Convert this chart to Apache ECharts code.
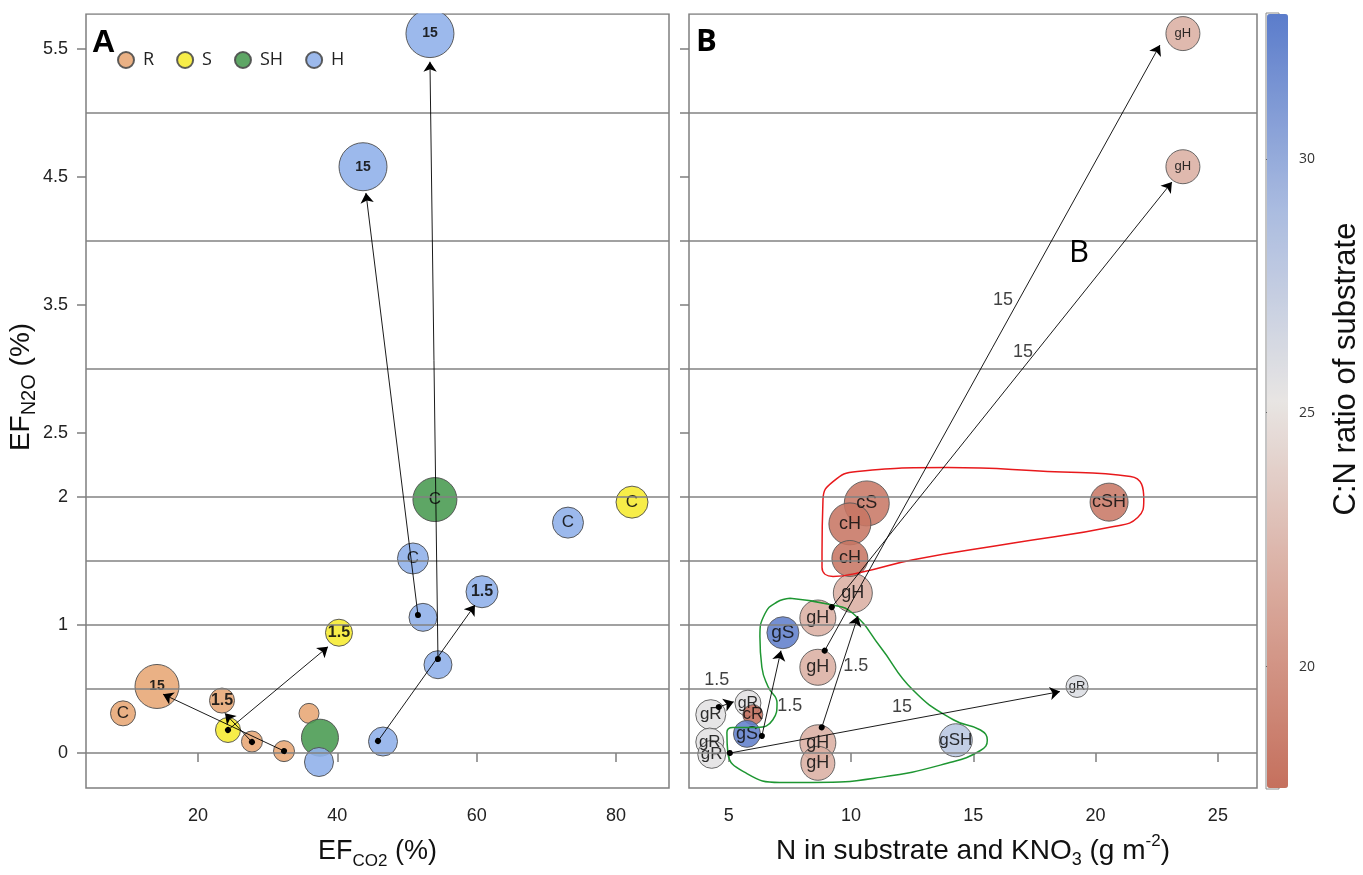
<!DOCTYPE html>
<html><head><meta charset="utf-8">
<script src="https://cdn.jsdelivr.net/npm/echarts@6/dist/echarts.min.js"></script>
<style>html,body{margin:0;padding:0;background:#fff}#c{width:1363px;height:875px}</style>
</head><body><div id="c"></div>
<script>
// ---------- Panel A : [EF_CO2 %, EF_N2O %, bubble diameter, label] ----------
const ptsR  = [[9.23,0.31,25,'C'],[14.11,0.52,44,'15'],[23.44,0.41,25,'1.5'],[27.74,0.09,21,''],[32.34,0.015,21,''],[35.93,0.31,20,'']];
const ptsS  = [[24.30,0.18,25,''],[40.23,0.94,27,'1.5'],[82.29,1.96,32,'C']];
const ptsSH = [[37.5,0.12,37,''],[54.0,1.98,44,'C']];
const ptsH  = [[37.36,-0.07,29,''],[46.55,0.09,29,''],[52.29,1.06,28,''],[54.44,0.69,28,''],[50.85,1.52,31,'C'],[60.76,1.26,32,'1.5'],[73.1,1.80,31,'C'],[53.29,5.62,48,'15'],[43.68,4.58,48,'15']];
const arrowsA = [
  [[32.34,0.016],[14.97,0.46]],
  [[27.74,0.086],[23.87,0.31]],
  [[24.30,0.18],[38.65,0.83]],
  [[45.83,0.094],[59.75,1.156]],
  [[51.57,1.078],[44.1,4.375]],
  [[54.44,0.734],[53.29,5.40]]
];
// ---------- Panel B : [N g m-2, EF_N2O %, C:N ratio, bubble diameter, label] ----------
const ptsB = [
  [4.26,0.30,25.6,30,'gR'],[5.78,0.39,25.6,26,'gR'],[5.98,0.30,17.6,20,'cR'],[5.74,0.15,32.6,27,'gS'],
  [4.22,0.086,25.6,28,'gR'],[4.30,-0.01,25.6,28,'gR'],[7.21,0.94,32.6,32,'gS'],
  [8.64,1.055,21.8,36,'gH'],[8.64,0.67,21.8,36,'gH'],[10.07,1.25,21.8,39,'gH'],
  [8.64,0.08,21.8,36,'gH'],[8.64,-0.08,21.8,34,'gH'],[14.28,0.10,28.0,33,'gSH'],[19.24,0.52,26.0,22,'gR'],
  [10.64,1.95,18.2,45,'cS'],[9.95,1.79,18.0,42,'cH'],[9.95,1.52,18.0,36,'cH'],[20.55,1.96,18.2,38,'cSH'],
  [23.57,5.62,21.8,34,'gH'],[23.57,4.58,21.8,34,'gH']
];
const arrowsB = [
  [[4.59,0.36],[5.20,0.40]],
  [[6.35,0.133],[7.13,0.80]],
  [[8.80,0.20],[10.28,1.07]],
  [[8.92,0.80],[22.63,5.53]],
  [[9.21,1.14],[23.12,4.46]],
  [[5.04,0.0],[18.54,0.48]]
];
const arrowLabelsB = [[4.51,0.57,'1.5'],[7.49,0.37,'1.5'],[10.19,0.68,'1.5'],[16.21,3.54,'15'],[17.03,3.13,'15'],[12.08,0.36,'15']];
const redOutline = [[8.81,1.56],[8.85,1.98],[9.26,2.12],[10.25,2.20],[13.93,2.23],[18.03,2.20],[21.43,2.16],[21.97,1.98],[21.72,1.84],[20.74,1.77],[16.64,1.64],[12.54,1.51],[10.37,1.41],[9.26,1.38],[8.81,1.45],[8.81,1.56]];
const greenOutline = [[7.50,1.21],[9.14,1.16],[10.08,1.09],[11.19,0.83],[12.54,0.49],[14.18,0.26],[15.29,0.18],[15.57,0.10],[15.29,0.02],[13.93,-0.08],[11.19,-0.19],[8.44,-0.23],[7.09,-0.23],[5.74,-0.16],[4.96,0.0],[4.92,0.16],[5.16,0.20],[6.15,0.20],[6.80,0.26],[6.97,0.39],[6.60,0.52],[6.35,0.67],[6.27,0.91],[6.48,1.09],[6.97,1.18],[7.50,1.21]];
// ---------- axes ----------
const yTicksA = [0,1,2,2.5,3.5,4.5,5.5];
const yTicksB = [0,0.5,1,1.5,2,2.5,3,3.5,4,4.5,5,5.5];
const gridLinesY = [0,0.5,1,1.5,2,3,4,5];
const xTicksA = [20,40,60,80];
const xTicksB = [5,10,15,20,25];
const cbTicks = [20,25,30];

// label font sizes for panel B bubbles (style)
const fontB = [17,16,17,18,17,17,19,18,18,18,18,18,17,13,18,18,18,18,13,13];

const FONT = "'Liberation Sans', Arial, sans-serif";
const chart = echarts.init(document.getElementById('c'), null, {renderer:'canvas'});
const tickStyle = {color:'#7f7f7f', width:1.5};
const labA = {
  show:true, position:'inside', color:'#111',
  formatter: p => { const t = p.data[3]; return t==='C' ? '{c|C}' : t==='15' ? '{f|15}' : t==='1.5' ? '{h|1.5}' : ''; },
  rich:{ c:{fontSize:17,color:'#111'}, f:{fontSize:14,fontWeight:'bold',color:'#111'}, h:{fontSize:16,fontWeight:'bold',color:'#111'} }
};
function seriesA(name, data, color){
  return {name, type:'scatter', xAxisIndex:0, yAxisIndex:0, data, symbolSize: d=>d[2],
    itemStyle:{color, borderColor:'#4d4d4d', borderWidth:1, opacity:0.9}, label:labA, z:3};
}
const gridMark = (xi)=>({type:'line', xAxisIndex:xi, yAxisIndex:xi, data:[[4, -0.27]], showSymbol:false, silent:true, z:1,
  lineStyle:{opacity:0},
  markLine:{silent:true, symbol:['none','none'], label:{show:false}, animation:false,
    lineStyle:{color:'#828282', width:1.5, type:'solid'}, data: gridLinesY.map(v=>({yAxis:v}))}});

const option = {
  animation:false,
  textStyle:{fontFamily:FONT},
  title:[
    {text:'A', left:92, top:27, padding:0, textStyle:{fontFamily:FONT, fontSize:32, fontWeight:'bold', color:'#000'}},
    {text:'B', left:696, top:27, padding:0, textStyle:{fontFamily:"'Open Sans', sans-serif", fontSize:31, fontWeight:'bold', color:'#000'}},
    {text:'B', left:1069, top:238, padding:0, textStyle:{fontFamily:"'Open Sans', sans-serif", fontSize:31, fontWeight:'normal', color:'#000'}}
  ],
  legend:{data:['R','S','SH','H'], left:117, top:51, itemWidth:16, itemHeight:16, itemGap:22, icon:'circle', padding:0,
    textStyle:{fontFamily:"'Open Sans', sans-serif", fontSize:18, color:'#222', padding:[0,0,0,4]}},
  graphic:{elements:[
    {type:'rect', x:80, y:0, shape:{x:0, y:0, width:595, height:13.2}, style:{fill:'#ffffff'}, z:1000, zlevel:0, silent:true},
    {type:'rect', x:683, y:0, shape:{x:0, y:0, width:580, height:13.2}, style:{fill:'#ffffff'}, z:1000, zlevel:0, silent:true}
  ]},
  grid:[
    {left:86, top:14, width:583, height:774, show:true, borderColor:'#7f7f7f', borderWidth:1.5, backgroundColor:'transparent'},
    {left:689, top:14, width:568, height:774, show:true, borderColor:'#7f7f7f', borderWidth:1.5, backgroundColor:'transparent'},
    {left:1266, top:13, width:23, height:776, show:true, borderColor:'#8a8a8a', borderWidth:1, backgroundColor:'transparent'}
  ],
  xAxis:[
    {gridIndex:0, type:'value', min:3.92, max:87.6, axisLine:{show:false}, splitLine:{show:false},
      axisTick:{customValues:xTicksA, length:9, lineStyle:tickStyle},
      axisLabel:{customValues:xTicksA, fontSize:18, color:'#222', margin:19},
      name:'{m|EF}{s|CO2}{m| (%)}', nameLocation:'middle', nameGap:46,
      nameTextStyle:{rich:{m:{fontSize:27, lineHeight:36, color:'#111'}, s:{fontSize:17, lineHeight:18, verticalAlign:'bottom', color:'#111'}}}},
    {gridIndex:1, type:'value', min:3.37, max:26.6, axisLine:{show:false}, splitLine:{show:false},
      axisTick:{customValues:xTicksB, length:9, lineStyle:tickStyle},
      axisLabel:{customValues:xTicksB, fontSize:18, color:'#222', margin:19},
      name:'{m|N in substrate and KNO}{s|3}{m| (g m}{p|-2}{m|)}', nameLocation:'middle', nameGap:45,
      nameTextStyle:{rich:{m:{fontSize:28, lineHeight:36, color:'#111'}, s:{fontSize:18, lineHeight:18, verticalAlign:'bottom', color:'#111'}, p:{fontSize:17, lineHeight:18, verticalAlign:'top', color:'#111'}}}},
    {gridIndex:2, type:'value', min:0, max:1, show:false}
  ],
  yAxis:[
    {gridIndex:0, type:'value', min:-0.273, max:5.773, axisLine:{show:false}, splitLine:{show:false},
      axisTick:{customValues:yTicksA, length:9, lineStyle:tickStyle},
      axisLabel:{customValues:yTicksA, fontSize:18, color:'#222', margin:18},
      name:'{m|EF}{s|N2O}{m| (%)}', nameLocation:'middle', nameGap:42, nameRotate:90,
      nameTextStyle:{padding:[0,0,0,28], rich:{m:{fontSize:28, lineHeight:36, color:'#111'}, s:{fontSize:20, lineHeight:20, verticalAlign:'bottom', color:'#111'}}}},
    {gridIndex:1, type:'value', min:-0.273, max:5.773, axisLine:{show:false}, splitLine:{show:false},
      axisTick:{customValues:yTicksB, length:9, lineStyle:tickStyle},
      axisLabel:{show:false}},
    {gridIndex:2, type:'value', position:'right', min:17.59, max:32.87, axisLine:{show:false}, splitLine:{show:false},
      axisTick:{customValues:cbTicks, length:9, lineStyle:{color:'#666', width:1}},
      axisLabel:{customValues:cbTicks, fontSize:14, color:'#333', margin:20, fontFamily:"'Open Sans', sans-serif"},
      name:'C:N ratio of substrate', nameLocation:'middle', nameGap:52, nameRotate:90,
      nameTextStyle:{fontSize:31, color:'#111', fontFamily:FONT, padding:[0,0,0,64]}}
  ],
  visualMap:{type:'continuous', seriesIndex:7, dimension:2, min:17.59, max:32.87, calculable:false, hoverLink:false,
    left:1267, top:14, itemWidth:21, itemHeight:774, padding:0, text:null, showLabel:false,
    inRange:{color:['#c5705d','#d9a99c','#e8e5e3','#a9bbe0','#5b7ccb']}},
  series:[
    gridMark(0), gridMark(1),
    seriesA('R', ptsR, '#e8a878'),
    seriesA('S', ptsS, '#f6eb34'),
    seriesA('SH', ptsSH, '#4c9c54'),
    seriesA('H', ptsH, '#91b1ea'),
    {type:'lines', coordinateSystem:'cartesian2d', xAxisIndex:0, yAxisIndex:0, z:6,
      symbol:['circle','arrow'], symbolSize:[6,10], lineStyle:{color:'#000', width:0.9, opacity:1},
      data: arrowsA.map(a=>({coords:a}))},
    {name:'B', type:'scatter', xAxisIndex:1, yAxisIndex:1,
      data: ptsB.map((d,i)=>({value:d, label:{fontSize:fontB[i]}})),
      symbolSize:d=>d[3], z:3,
      itemStyle:{borderColor:'#555', borderWidth:1, opacity:0.88},
      label:{show:true, position:'inside', color:'#111', formatter:p=>p.value[4], fontSize:17}},
    {type:'lines', coordinateSystem:'cartesian2d', xAxisIndex:1, yAxisIndex:1, z:6,
      symbol:['circle','arrow'], symbolSize:[6,10], lineStyle:{color:'#000', width:0.9, opacity:1},
      data: arrowsB.map(a=>({coords:a}))},
    {type:'scatter', xAxisIndex:1, yAxisIndex:1, symbolSize:0, z:7, silent:true,
      data: arrowLabelsB, label:{show:true, position:'inside', formatter:p=>p.data[2], fontSize:18, color:'#111'}},
    {type:'line', xAxisIndex:1, yAxisIndex:1, data:redOutline, smooth:0.5, showSymbol:false, z:4, silent:true,
      lineStyle:{color:'#e8191c', width:1.5}},
    {type:'line', xAxisIndex:1, yAxisIndex:1, data:greenOutline, smooth:0.5, showSymbol:false, z:4, silent:true,
      lineStyle:{color:'#1e9632', width:1.5}}
  ]
};
chart.setOption(option);
</script></body></html>
